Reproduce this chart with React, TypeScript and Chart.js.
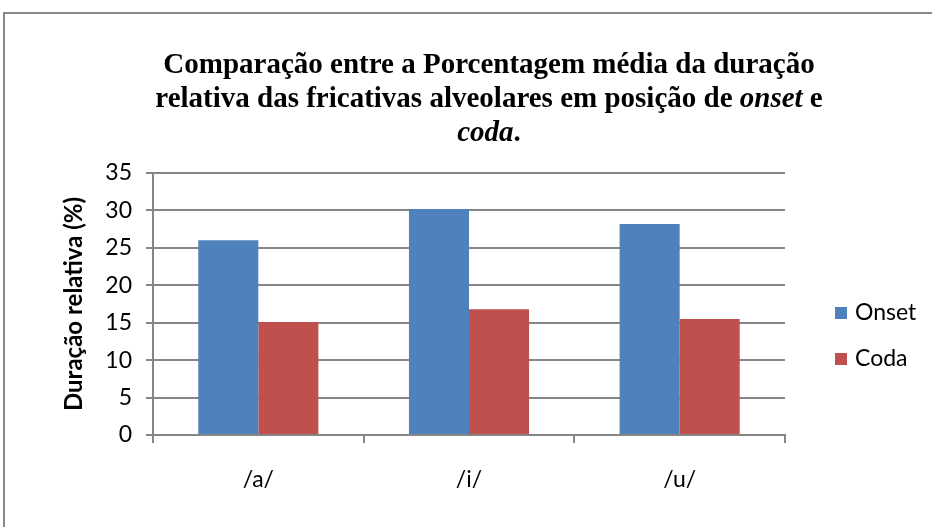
import React, { useEffect, useRef } from "react";
import { Chart, registerables } from "chart.js";

Chart.register(...registerables);

const categories = ["/a/", "/i/", "/u/"];
const seriesNames = ["Onset", "Coda"];
const onsetValues = [26.0, 30.2, 28.2];
const codaValues = [15.1, 16.8, 15.5];
const seriesColors = ["#4F81BD", "#C0504D"];
const yTicks = [0, 5, 10, 15, 20, 25, 30, 35];
const yAxisTitle = "Duração relativa (%)";
const titleLines = [
  [{ t: "Comparação entre a Porcentagem média da duração", i: false }],
  [
    { t: "relativa das fricativas alveolares em posição de ", i: false },
    { t: "onset", i: true },
    { t: " e", i: false },
  ],
  [
    { t: "coda", i: true },
    { t: ".", i: false },
  ],
];

const TITLE_SIZE = 29;
const TICK_FONT = "Lato";
const TICK_SIZE = 23;

const decorPlugin = {
  id: "decor",
  beforeDraw(chart: any) {
    const ctx = chart.ctx;
    ctx.save();
    ctx.fillStyle = "#ffffff";
    ctx.fillRect(0, 0, chart.width, chart.height);
    ctx.strokeStyle = "#898989";
    ctx.lineWidth = 2;
    ctx.beginPath();
    ctx.moveTo(4, chart.height + 5);
    ctx.lineTo(4, 13);
    ctx.lineTo(chart.width + 5, 13);
    ctx.stroke();
    ctx.restore();
  },
  afterDraw(chart: any) {
    const ctx = chart.ctx;
    ctx.save();
    const cx = 489;
    const ys = [66, 100, 134];
    ctx.fillStyle = "#000";
    ctx.textBaseline = "middle";
    titleLines.forEach((runs, li) => {
      let total = 0;
      const widths = runs.map((r) => {
        ctx.font = `${r.i ? "italic " : ""}bold ${TITLE_SIZE}px "Liberation Serif"`;
        const w = ctx.measureText(r.t).width;
        total += w;
        return w;
      });
      let x = cx - total / 2;
      runs.forEach((r, k) => {
        ctx.font = `${r.i ? "italic " : ""}bold ${TITLE_SIZE}px "Liberation Serif"`;
        ctx.textAlign = "left";
        ctx.fillText(r.t, x, ys[li]);
        x += widths[k];
      });
    });
    const ly = [313, 359];
    chart.data.datasets.forEach((ds: any, i: number) => {
      ctx.fillStyle = ds.backgroundColor;
      ctx.fillRect(835, ly[i] - 6, 12, 12);
      ctx.fillStyle = "#000";
      ctx.font = `${TICK_SIZE}px "${TICK_FONT}"`;
      ctx.textAlign = "left";
      ctx.textBaseline = "middle";
      ctx.fillText(ds.label, 855, ly[i]);
    });
    ctx.restore();
  },
};

export default function App() {
  const ref = useRef<HTMLCanvasElement>(null);
  useEffect(() => {
    const chart = new Chart(ref.current as HTMLCanvasElement, {
      type: "bar",
      data: {
        labels: categories,
        datasets: [
          {
            label: seriesNames[0],
            data: onsetValues,
            backgroundColor: seriesColors[0],
          },
          {
            label: seriesNames[1],
            data: codaValues,
            backgroundColor: seriesColors[1],
          },
        ],
      },
      options: {
        animation: false,
        responsive: false,
        events: [],
        layout: { padding: { left: 55, top: 173, right: 147, bottom: 0 } },
        plugins: {
          legend: { display: false },
          title: { display: false },
          tooltip: { enabled: false },
        },
        datasets: { bar: { categoryPercentage: 0.57, barPercentage: 1 } },
        scales: {
          x: {
            grid: {
              offset: true,
              drawOnChartArea: false,
              drawTicks: true,
              tickLength: 8,
              color: "#868686",
              lineWidth: 2,
            },
            border: { color: "#868686", width: 2 },
            ticks: {
              color: "#000",
              font: { family: TICK_FONT, size: TICK_SIZE },
              padding: 23,
            },
            afterFit(scale: any) {
              scale.height = 92;
            },
          },
          y: {
            min: 0,
            max: 35,
            afterBuildTicks(scale: any) {
              scale.ticks = yTicks.map((v) => ({ value: v }));
            },
            grid: {
              color: "#868686",
              lineWidth: 2,
              tickLength: 7,
            },
            border: { color: "#868686", width: 2 },
            ticks: {
              color: "#000",
              font: { family: TICK_FONT, size: TICK_SIZE },
              padding: 14,
            },
            title: {
              display: true,
              text: yAxisTitle,
              color: "#000",
              font: { family: TICK_FONT, size: 24, weight: "bold" },
              padding: { top: 5, bottom: 0 },
            },
            afterFit(scale: any) {
              scale.width = 98;
            },
          },
        },
      },
      plugins: [decorPlugin],
    } as any);
    return () => chart.destroy();
  }, []);
  return (
    <div style={{ position: "fixed", left: 0, top: 0, width: 932, height: 527 }}>
      <canvas ref={ref} width={932} height={527} style={{ display: "block" }} />
    </div>
  );
}
